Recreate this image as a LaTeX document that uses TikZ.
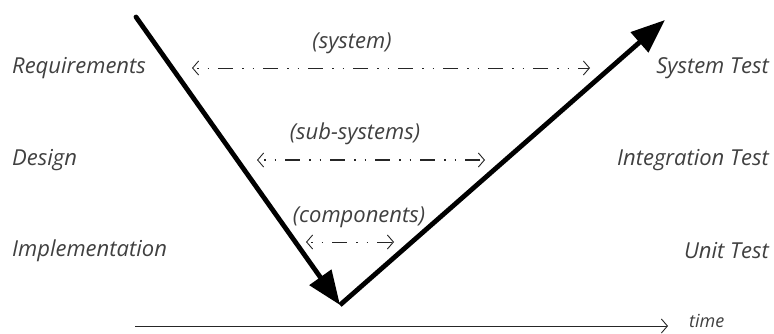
\documentclass[tikz,border=0pt]{standalone}
\usepackage{fontspec}
\setmainfont{Open Sans}
\usepackage{xcolor}
\usetikzlibrary{arrows.meta}

\begin{document}
\begin{tikzpicture}[x=1pt,y=-1pt,
phase/.style={font=\itshape\fontsize{22}{26}\selectfont,text=black!75,inner sep=0pt},
scopeLabel/.style={font=\itshape\fontsize{22}{26}\selectfont,text=black!75,inner sep=0pt},
vline/.style={line width=4.8pt,-{Triangle[length=34pt,width=26pt]}},
span/.style={black!85,line width=0.9pt,{Straight Barb[length=6pt,width=14pt]}-{Straight Barb[length=6pt,width=14pt]}},
dashDotDot/.style={dash pattern=on 1.5pt off 9pt on 1.5pt off 9pt on 15pt off 9pt,dash phase=-4pt},
dashDotDotBold/.style={dash pattern=on 1.5pt off 9pt on 1.5pt off 9pt on 15pt off 9pt,dash phase=-6pt,line width=1.8pt}]
\useasboundingbox (0,0) rectangle (774,334);

\node[phase,anchor=west] (req) at (12,68) {Requirements};
\node[phase,anchor=west] (design) at (12,160) {Design};
\node[phase,anchor=west] (impl) at (12,251) {Implementation};
\node[phase,anchor=east] (systest) at (769,68) {System Test};
\node[phase,anchor=east] (inttest) at (769,160) {Integration Test};
\node[phase,anchor=east] (unittest) at (769,251) {Unit Test};

\coordinate (start) at (136,17);
\coordinate (bottom) at (340,305);
\coordinate (top) at (665,20);
\draw[vline,line cap=round] (start) -- (bottom);
\draw[vline] (bottom) -- (top);

\coordinate (sysL) at (192,68);
\coordinate (sysR) at (590,68);
\coordinate (subL) at (257,160);
\coordinate (subR) at (485,160);
\coordinate (compL) at (306,242);
\coordinate (compR) at (394,242);
\draw[span,dashDotDot] (sysL) -- node[scopeLabel,above=14pt,xshift=-39pt] (sys) {(system)} (sysR);
\draw[span,dashDotDotBold,{Straight Barb[length=6pt,width=14pt,line width=0.9pt]}-{Straight Barb[length=6pt,width=14pt,line width=0.9pt]}] (subL) -- node[scopeLabel,above=14pt,xshift=-16pt] (sub) {(sub-systems)} (subR);
\draw[span,dashDotDot] (compL) -- node[scopeLabel,above=14pt,xshift=9pt] (comp) {(components)} (compR);

\coordinate (t0) at (135,326);
\coordinate (t1) at (668,326);
\node[scopeLabel,font=\itshape\fontsize{18}{20}\selectfont,anchor=west] (time) at (689,321) {time};
\draw[black!85,line width=0.9pt,-{Straight Barb[length=6pt,width=14pt]}] (t0) -- (t1);
\end{tikzpicture}
\end{document}
